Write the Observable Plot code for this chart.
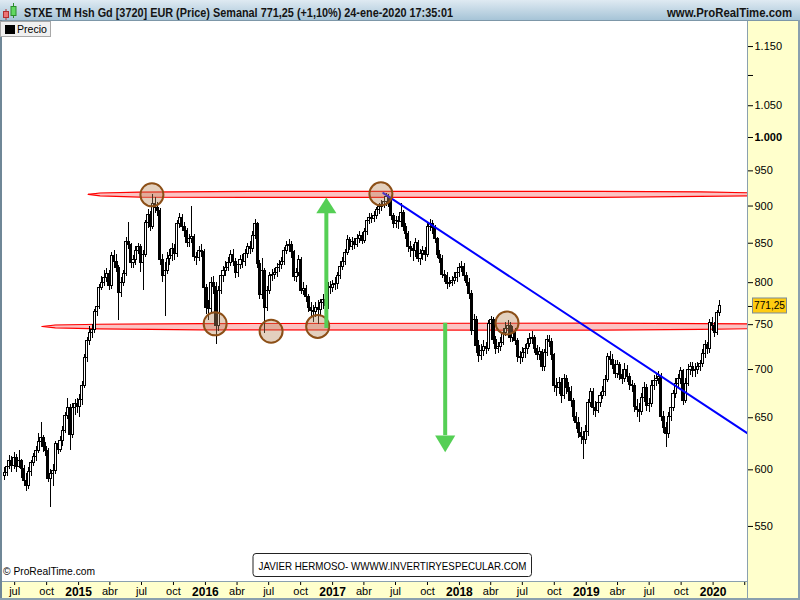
<!DOCTYPE html>
<html>
<head>
<meta charset="utf-8">
<script src="https://cdn.jsdelivr.net/npm/d3@7"></script>
<script src="https://cdn.jsdelivr.net/npm/@observablehq/plot@0.6"></script>
<style>
  html, body { margin: 0; padding: 0; background: #fff; }
  #wrap { position: relative; width: 800px; height: 600px; overflow: hidden; background: #fff; }
  #under, #over { position: absolute; left: 0; top: 0; }
  #over { pointer-events: none; }
  #chart { position: absolute; left: 0; top: 20px; }
  #chart svg { overflow: visible; }
</style>
</head>
<body>
<div id="wrap">
  <svg id="under" width="800" height="600"></svg>
  <div id="chart"></div>
  <svg id="over" width="800" height="600"></svg>
</div>
<script>
// ---------------- DATA ----------------
const firstWeek = "2014-06-02";   // Monday of first weekly candle
const firstOpen = 594;
const closes = [
  597,603,608,604,611,603,608,601,590,585,
  598,606,612,618,626,630,621,618,592,596,
  599,624,619,627,637,652,660,633,660,664,
  661,668,683,712,731,740,744,765,771,793,
  800,806,811,796,833,826,818,788,800,811,
  852,848,824,828,840,845,825,835,877,888,
  872,903,897,893,828,808,815,830,833,843,
  836,875,884,872,866,850,855,858,832,831,
  840,838,793,770,768,800,795,748,790,808,
  815,818,825,835,826,812,822,828,826,836,
  845,843,860,875,823,785,815,770,790,808,
  810,812,818,822,826,840,846,848,838,807,
  812,828,790,792,782,770,766,765,770,767,
  775,779,772,795,793,797,798,808,820,826,
  837,854,845,852,848,856,860,853,865,880,
  884,882,887,894,898,902,905,912,908,886,
  876,880,878,890,872,862,845,843,840,850,
  830,836,840,835,872,876,870,855,835,830,
  810,808,798,800,802,806,812,818,820,808,
  800,786,743,755,726,715,720,725,723,751,
  755,733,722,725,729,741,745,749,735,742,
  731,714,712,718,722,728,734,735,723,716,
  719,703,718,733,730,716,683,680,686,672,
  690,680,676,667,651,645,635,631,628,636,
  665,676,660,657,665,672,676,689,714,710,
  705,695,705,694,690,700,692,684,682,661,
  658,656,670,680,662,664,683,688,690,692,
  651,640,634,651,660,674,685,690,698,667,
  685,700,703,698,700,703,706,717,727,722,
  752,748,740,763,771.25
];
const highs = [
  602,606,613,612,616,614,618,610,604,597,
  602,609,615,622,634,645,633,626,620,600,
  605,627,628,632,641,655,670,663,664,668,
  670,674,687,716,735,748,750,768,778,798,
  808,815,818,815,838,840,835,822,806,815,
  858,878,850,834,846,850,848,840,880,895,
  892,916,912,905,896,835,825,838,842,850,
  848,880,890,888,878,870,862,900,862,838,
  846,848,842,798,778,806,808,800,795,812,
  820,826,832,840,842,830,828,834,835,842,
  850,852,866,882,878,828,830,818,795,812,
  816,818,824,828,832,845,852,855,852,840,
  818,834,832,800,796,786,776,772,776,778,
  780,785,784,800,802,803,806,812,826,832,
  842,860,858,858,856,862,866,864,870,884,
  890,890,892,898,904,908,912,918,916,910,
  890,886,886,903,894,876,866,852,848,856,
  854,842,846,845,876,882,880,874,858,840,
  834,815,812,806,808,812,818,824,826,824,
  812,805,790,762,760,732,728,732,730,755,
  760,758,736,730,735,746,752,755,752,748,
  746,734,720,724,728,734,740,742,738,726,
  724,722,722,738,738,734,718,690,692,690,
  695,694,686,682,670,655,650,640,636,642,
  668,680,680,666,670,676,682,694,718,720,
  716,710,710,708,700,706,704,696,688,685,
  668,664,675,686,684,670,688,694,695,698,
  696,656,645,655,666,678,690,695,702,700,
  690,705,708,708,706,708,710,722,732,730,
  756,758,752,766,778
];
const lows = [
  590,594,600,598,600,598,601,592,585,580,
  582,594,603,608,615,622,616,612,588,566,
  585,596,614,616,622,634,648,618,630,652,
  654,650,662,680,708,726,734,740,760,768,
  790,795,800,790,792,818,812,755,782,795,
  808,842,818,818,822,835,812,790,832,870,
  865,868,890,885,822,800,760,810,822,826,
  828,832,870,866,858,845,845,850,826,822,
  826,832,788,762,755,764,785,728,742,785,
  800,808,814,820,820,805,806,816,818,820,
  830,836,838,855,818,780,780,740,765,786,
  802,804,806,812,816,822,835,838,830,802,
  800,808,785,784,776,764,758,752,758,750,
  760,768,758,768,786,788,790,792,804,815,
  822,834,840,840,842,844,850,848,850,860,
  875,876,878,882,888,892,896,900,898,880,
  870,870,868,874,866,855,838,832,826,832,
  825,822,828,826,832,866,862,850,830,824,
  805,800,792,794,795,798,800,806,812,802,
  795,780,738,735,718,708,710,714,716,720,
  745,728,716,718,720,726,736,740,730,730,
  726,708,705,708,712,716,724,728,718,710,
  710,698,698,714,724,710,676,672,674,664,
  668,674,666,660,646,638,630,624,610,624,
  632,660,652,650,654,660,668,672,686,704,
  700,690,690,688,684,686,686,678,676,655,
  650,645,652,665,656,655,660,678,682,684,
  646,634,621,630,646,656,670,680,684,662,
  664,682,694,692,692,695,698,702,712,716,
  718,742,735,738,760
];

// Axes
const yTicks = [550,600,650,700,750,800,850,900,950,1000,1050,1100,1150];
const xTickDates = [
  "2014-07-01","2014-10-01","2015-01-01","2015-04-01","2015-07-01","2015-10-01",
  "2016-01-01","2016-04-01","2016-07-01","2016-10-01","2017-01-01","2017-04-01",
  "2017-07-01","2017-10-01","2018-01-01","2018-04-01","2018-07-01","2018-10-01",
  "2019-01-01","2019-04-01","2019-07-01","2019-10-01","2020-01-01","2020-04-01"
];
const monthLabels = {3: "abr", 6: "jul", 9: "oct"};
const lastPriceLabel = "771,25";

// Annotations: resistance band (tapered ellipse)
const resistDates = ["2015-01-29","2015-03-04","2015-06-27","2016-05-09","2019-02-11","2019-11-26","2020-04-12"];
const resistLo    = [916.2, 914.1, 912.4, 912.0, 912.0, 913.4, 914.3];
const resistHi    = [916.2, 918.2, 919.4, 920.4, 920.4, 919.7, 918.5];
// support band
const supportDates = ["2014-09-18","2014-10-26","2015-03-04","2015-12-17","2019-02-11","2019-11-26","2020-04-12"];
const supportLo    = [747.9, 746.2, 745.1, 744.0, 743.7, 744.5, 745.3];
const supportHi    = [747.9, 749.6, 750.5, 751.3, 751.7, 751.3, 750.8];
// circles
const circleDates  = ["2015-07-31","2016-01-29","2016-07-08","2016-11-19","2017-05-20","2018-05-18"];
const circlePrices = [915.7, 751, 742.4, 748, 917, 752];
// blue trend line
const trendDates  = ["2017-05-27","2020-04-12"];
const trendPrices = [918, 634];
// green arrows
const arrowDates = ["2016-12-14","2017-11-21"];
const arrowFrom  = [745.6, 751.6];
const arrowBase  = [890, 632.4];
const arrowTip   = [912, 616.5];

// ---------------- BUILD ----------------
const D = s => new Date(s + "T00:00:00Z");
const t0 = D(firstWeek);
const candles = closes.map((c, i) => ({
  date: d3.utcDay.offset(t0, 7 * i),
  open: i ? closes[i - 1] : firstOpen,
  close: c, high: highs[i], low: lows[i]
}));
const resist = resistDates.map((d, i) => ({date: D(d), lo: resistLo[i], hi: resistHi[i]}));
const support = supportDates.map((d, i) => ({date: D(d), lo: supportLo[i], hi: supportHi[i]}));
const circles = circleDates.map((d, i) => ({date: D(d), price: circlePrices[i]}));
const trend = trendDates.map((d, i) => ({date: D(d), price: trendPrices[i]}));
const arrows = arrowDates.map((d, i) => ({date: D(d), from: arrowFrom[i], base: arrowBase[i], tip: arrowTip[i]}));
const heads = [];
arrows.forEach((a, i) => {
  heads.push({id: i, date: d3.utcHour.offset(a.date, -24 * 29), price: a.base});
  heads.push({id: i, date: d3.utcHour.offset(a.date, 24 * 29), price: a.base});
  heads.push({id: i, date: a.date, price: a.tip});
});

const fmtY = d => (d === 1100 || d === 771.25) ? "" : d3.format(",")(d).replace(",", ".");
const fmtX = d => d.getUTCMonth() === 0 ? String(d.getUTCFullYear()) :
  (d.getUTCFullYear() === 2020 && d.getUTCMonth() === 3 ? "" : monthLabels[d.getUTCMonth()]);

const bandMarks = (band) => [
  Plot.areaY(band, {x: "date", y1: "lo", y2: "hi", fill: "#fbbcbc", fillOpacity: 0.9, clip: true}),
  Plot.line(band, {x: "date", y: "hi", stroke: "#ff0000", strokeWidth: 1.2, clip: true}),
  Plot.line(band, {x: "date", y: "lo", stroke: "#ff0000", strokeWidth: 1.2, clip: true})
];

const plot = Plot.plot({
  width: 800, height: 580,
  marginTop: 0, marginLeft: 2, marginRight: 53, marginBottom: 18,
  style: {background: "transparent", fontFamily: "'Liberation Sans', Arial, sans-serif", fontSize: "11px", color: "#000"},
  x: {type: "utc", domain: [D("2014-05-27"), D("2020-04-09")], label: null},
  y: {type: "log", domain: [504.6, 1197], label: null},
  marks: [
    ...bandMarks(resist),
    ...bandMarks(support),
    Plot.ruleX(candles, {x: "date", y1: "low", y2: "high", stroke: "#000", strokeWidth: 1, shapeRendering: "crispEdges"}),
    Plot.rect(candles, {
      x1: d => d3.utcHour.offset(d.date, -72), x2: d => d3.utcHour.offset(d.date, 72),
      y1: "open", y2: "close",
      fill: d => d.close >= d.open ? "#ffffff" : "#000000",
      stroke: "#000", strokeWidth: 1, shapeRendering: "crispEdges"
    }),
    Plot.line(trend, {x: "date", y: "price", stroke: "#0000ff", strokeWidth: 2, clip: true}),
    Plot.dot(circles, {x: "date", y: "price", r: 11.5, fill: "#b98a5c", fillOpacity: 0.4, stroke: "#8c4f17", strokeWidth: 2}),
    Plot.ruleX(arrows, {x: "date", y1: "from", y2: "base", stroke: "#55cf55", strokeWidth: 4}),
    Plot.line(heads, {x: "date", y: "price", z: "id", fill: "#55cf55", stroke: "none"}),
    Plot.axisY({anchor: "right", ticks: [...yTicks, 771.25], tickFormat: fmtY, tickSize: 5, tickPadding: 2, label: null, fontSize: 11}),
    Plot.axisX({ticks: xTickDates.map(D), tickFormat: fmtX, tickSize: 3, tickPadding: 2, label: null, fontSize: 11})
  ]
});
document.getElementById("chart").appendChild(plot);

// bold special labels
d3.select(plot).selectAll("text").each(function () {
  const t = this.textContent;
  if (t === "1.000") d3.select(this).attr("font-weight", "bold");
  if (/^20\d\d$/.test(t)) d3.select(this).attr("font-weight", "bold").attr("font-size", 12);
});

// ---------------- UNDERLAY (panels) ----------------
const under = d3.select("#under");
const defs = under.append("defs");
const g = defs.append("linearGradient").attr("id", "hg").attr("x1", 0).attr("y1", 0).attr("x2", 0).attr("y2", 1);
g.append("stop").attr("offset", "0%").attr("stop-color", "#dfeaf2");
g.append("stop").attr("offset", "100%").attr("stop-color", "#a6c4d7");
under.append("rect").attr("x", 747).attr("y", 20).attr("width", 53).attr("height", 580).attr("fill", "#ffffcc");
under.append("rect").attr("x", 0).attr("y", 581).attr("width", 800).attr("height", 19).attr("fill", "#ffffcc");
under.append("line").attr("x1", 0).attr("x2", 747).attr("y1", 581.5).attr("y2", 581.5).attr("stroke", "#8aa0ae");
under.append("line").attr("x1", 747.5).attr("x2", 747.5).attr("y1", 20).attr("y2", 600).attr("stroke", "#8aa0ae");

// ---------------- OVERLAY (header, legend, notes) ----------------
const over = d3.select("#over");
const font = "'Liberation Sans', Arial, sans-serif";
over.append("rect").attr("x", 0).attr("y", 0).attr("width", 800).attr("height", 20).attr("fill", "url(#hg)");
over.append("line").attr("x1", 0).attr("x2", 800).attr("y1", 20.5).attr("y2", 20.5).attr("stroke", "#7d97a8");
over.append("rect").attr("x", 0).attr("y", 20).attr("width", 2).attr("height", 580).attr("fill", "#6f8797");
over.append("rect").attr("x", 0).attr("y", 598).attr("width", 800).attr("height", 2).attr("fill", "#8aa0ae");
over.append("rect").attr("x", 798).attr("y", 20).attr("width", 2).attr("height", 580).attr("fill", "#8aa0ae");
// icon
over.append("line").attr("x1", 6).attr("x2", 6).attr("y1", 9).attr("y2", 20).attr("stroke", "#b03030");
over.append("rect").attr("x", 3.5).attr("y", 11.5).attr("width", 5).attr("height", 6).attr("fill", "#ec7474").attr("stroke", "#b03030");
over.append("line").attr("x1", 13.5).attr("x2", 13.5).attr("y1", 3).attr("y2", 18).attr("stroke", "#2c8c2c");
over.append("rect").attr("x", 11).attr("y", 6.5).attr("width", 5).attr("height", 9).attr("fill", "#62d862").attr("stroke", "#2c8c2c");
// header texts
over.append("text").attr("x", 24).attr("y", 16.5).attr("font-family", font).attr("font-weight", "bold").attr("font-size", 12)
  .attr("fill", "#141414").attr("textLength", 429).attr("lengthAdjust", "spacingAndGlyphs")
  .text("STXE TM Hsh Gd [3720] EUR (Price) Semanal 771,25 (+1,10%) 24-ene-2020 17:35:01");
over.append("text").attr("x", 667).attr("y", 16.5).attr("font-family", font).attr("font-weight", "bold").attr("font-size", 12)
  .attr("fill", "#141414").attr("textLength", 125).attr("lengthAdjust", "spacingAndGlyphs")
  .text("www.ProRealTime.com");
// legend
over.append("rect").attr("x", 0.5).attr("y", 21.5).attr("width", 50).attr("height", 15).attr("fill", "#f0f0f0").attr("stroke", "#a8a8a8");
over.append("rect").attr("x", 5).attr("y", 25).attr("width", 10).attr("height", 9).attr("fill", "#000");
over.append("text").attr("x", 17).attr("y", 33.3).attr("font-family", font).attr("font-size", 11).attr("fill", "#000")
  .attr("textLength", 30).attr("lengthAdjust", "spacingAndGlyphs").text("Precio");
// copyright
over.append("text").attr("x", 3).attr("y", 575).attr("font-family", font).attr("font-size", 11).attr("fill", "#000")
  .attr("textLength", 92).attr("lengthAdjust", "spacingAndGlyphs").text("© ProRealTime.com");
// note box
over.append("rect").attr("x", 253).attr("y", 553.5).attr("width", 278.5).attr("height", 23).attr("rx", 3)
  .attr("fill", "#fff").attr("stroke", "#222");
over.append("text").attr("x", 258.5).attr("y", 570).attr("font-family", font).attr("font-size", 11).attr("fill", "#000")
  .attr("textLength", 268).attr("lengthAdjust", "spacingAndGlyphs").text("JAVIER HERMOSO- WWWW.INVERTIRYESPECULAR.COM");
// last price box on the axis
const yLast = plot.scale("y").apply(closes[closes.length - 1]) + 20;
over.append("rect").attr("x", 752.5).attr("y", yLast - 8).attr("width", 34).attr("height", 15)
  .attr("fill", "#ffcc11").attr("stroke", "#7d8c99");
over.append("text").attr("x", 754).attr("y", yLast + 3.5).attr("font-family", font).attr("font-size", 11).attr("fill", "#000")
  .attr("textLength", 31).attr("lengthAdjust", "spacingAndGlyphs").text(lastPriceLabel);
</script>
</body>
</html>
